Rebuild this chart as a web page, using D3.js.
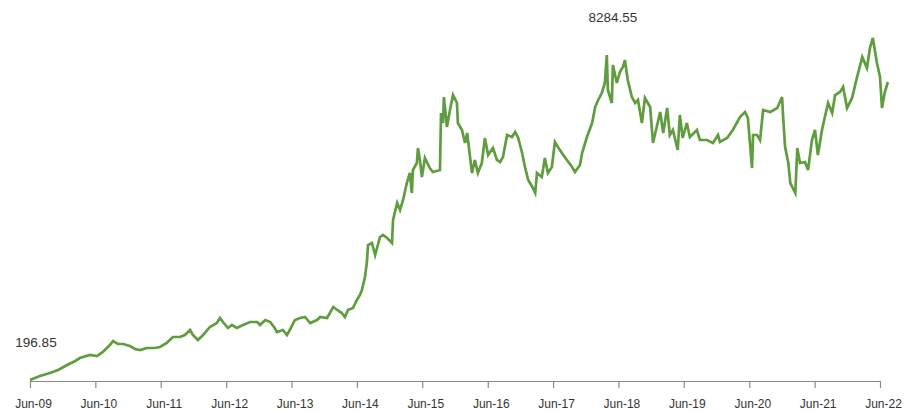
<!DOCTYPE html>
<html>
<head>
<meta charset="utf-8">
<script src="https://cdn.jsdelivr.net/npm/d3@7"></script>
<style>
    body { margin: 0; background: #ffffff; }
    text { font-family: "Helvetica Neue", Helvetica, Arial, "Liberation Sans", sans-serif; }
</style>
</head>
<body>
<script>

//dates of the line
var dates = [
    "2009-06-01","2009-07-26","2009-09-21","2009-11-05","2009-12-25","2010-02-09","2010-03-06","2010-05-01",
    "2010-06-10","2010-07-13","2010-08-21","2010-09-08","2010-10-05","2010-11-03","2010-12-11","2011-01-09",
    "2011-02-06","2011-03-15","2011-04-29","2011-05-28","2011-07-05","2011-08-08","2011-09-17","2011-10-14",
    "2011-11-12","2011-11-28","2011-12-26","2012-01-24","2012-03-02","2012-04-10","2012-04-27","2012-05-14",
    "2012-06-11","2012-07-03","2012-07-30","2012-09-03","2012-10-12","2012-11-21","2012-12-07","2013-01-05",
    "2013-02-02","2013-02-27","2013-03-11","2013-04-14","2013-05-06","2013-05-22","2013-06-20","2013-07-18",
    "2013-08-15","2013-09-13","2013-10-21","2013-11-08","2013-12-16","2014-01-20","2014-02-11","2014-03-09",
    "2014-03-26","2014-04-12","2014-05-10","2014-06-01","2014-06-18","2014-06-29","2014-07-16","2014-07-27",
    "2014-08-02","2014-08-24","2014-09-11","2014-10-08","2014-10-25","2014-11-17","2014-12-14","2014-12-20",
    "2015-01-12","2015-01-28","2015-02-14","2015-03-07","2015-03-24","2015-04-04","2015-04-10","2015-05-02",
    "2015-05-08","2015-05-19","2015-05-30","2015-06-16","2015-07-13","2015-07-30","2015-09-08","2015-09-14",
    "2015-09-25","2015-09-30","2015-10-17","2015-11-03","2015-11-20","2015-12-12","2015-12-17","2016-01-09",
    "2016-01-26","2016-02-07","2016-02-23","2016-03-05","2016-03-21","2016-04-07","2016-04-29","2016-05-16",
    "2016-06-03","2016-06-30","2016-07-22","2016-08-09","2016-08-25","2016-09-17","2016-10-14","2016-11-01",
    "2016-11-18","2016-12-10","2016-12-26","2017-01-13","2017-02-05","2017-02-21","2017-03-03","2017-03-30",
    "2017-04-16","2017-05-03","2017-05-25","2017-06-11","2017-06-28","2017-07-20","2017-08-17","2017-09-15",
    "2017-10-01","2017-10-29","2017-11-10","2017-12-07","2018-01-05","2018-01-22","2018-02-08","2018-02-28",
    "2018-03-17","2018-03-28","2018-04-03","2018-04-25","2018-05-01","2018-05-23","2018-06-09","2018-06-26",
    "2018-07-07","2018-07-23","2018-08-15","2018-09-02","2018-09-18","2018-10-10","2018-10-27","2018-11-25",
    "2018-12-11","2019-01-20","2019-02-06","2019-02-28","2019-03-15","2019-04-01","2019-04-28","2019-05-10",
    "2019-05-26","2019-06-18","2019-07-05","2019-08-13","2019-08-30","2019-10-08","2019-11-11","2019-12-09",
    "2019-12-20","2020-01-29","2020-03-01","2020-04-10","2020-05-08","2020-05-24","2020-06-16","2020-06-22",
    "2020-07-14","2020-07-31","2020-08-17","2020-09-26","2020-11-04","2020-12-01","2020-12-07","2020-12-18",
    "2021-01-05","2021-01-16","2021-02-13","2021-02-24","2021-03-11","2021-04-08","2021-04-25","2021-05-17",
    "2021-06-03","2021-06-19","2021-07-12","2021-07-28","2021-08-15","2021-09-07","2021-09-23","2021-10-21",
    "2021-11-07","2021-11-29","2021-12-27","2022-01-24","2022-02-22","2022-03-20","2022-04-06","2022-04-22",
    "2022-05-15","2022-06-01","2022-06-12","2022-06-28","2022-07-15"
];

//values of the line
var values = [
    196.85, 296, 371, 446, 570, 670, 744, 819,
    794, 894, 1068, 1167, 1093, 1093, 1043, 968,
    943, 993, 993, 1018, 1118, 1267, 1267, 1317,
    1441, 1317, 1192, 1317, 1516, 1615, 1740, 1640,
    1491, 1566, 1491, 1566, 1640, 1640, 1566, 1690,
    1640, 1491, 1391, 1441, 1317, 1441, 1690, 1740,
    1765, 1615, 1690, 1765, 1740, 2014, 1939, 1864,
    1765, 1939, 1989, 2188, 2312, 2437, 2760, 3133,
    3556, 3606, 3308, 3756, 3805, 3731, 3606, 4179,
    4602, 4427, 4676, 5099, 5348, 4850, 5423, 5597,
    5970, 5672, 5249, 5721, 5473, 5373, 5423, 6841,
    6592, 7239, 6493, 6916, 7289, 7090, 6592, 6418,
    6095, 6344, 5746, 5348, 5672, 5348, 5597, 6219,
    5796, 5970, 5672, 5622, 5746, 6294, 6244, 6368,
    6219, 5846, 5498, 5174, 5000, 4850, 5348, 5249,
    5721, 5348, 5498, 6120, 5995, 5846, 5672, 5498,
    5373, 5547, 5846, 6244, 6592, 6991, 7165, 7339,
    7588, 8284.55, 7414, 7090, 8036, 7588, 7862, 7986,
    8160, 7663, 7239, 7090, 7165, 6592, 7215, 6991,
    6095, 6866, 6344, 6966, 6294, 6418, 5921, 6792,
    6219, 6592, 6244, 6418, 6169, 6169, 6095, 6294,
    6120, 6219, 6418, 6742, 6866, 6717, 5473, 6294,
    6294, 6169, 6916, 6866, 6966, 7239, 6742, 5995,
    5597, 5099, 4850, 5970, 5597, 5622, 5423, 6169,
    6418, 5796, 6418, 6742, 7090, 6841, 7289, 7364,
    7488, 6966, 7215, 7737, 8235, 7961, 8459, 8708,
    8086, 7737, 6966, 7364, 7613
];

//x axis ticks
var tickDates = [
    "2009-06-01","2010-06-01","2011-06-01","2012-06-01","2013-06-01","2014-06-01","2015-06-01",
    "2016-06-01","2017-06-01","2018-06-01","2019-06-01","2020-06-01","2021-06-01","2022-06-01"
];

//value labels on the line
var labelDates = ["2009-06-01", "2018-03-28"];
var labelValues = [196.85, 8284.55];

const width = 915;
const height = 411;
const lineColor = "#5f9d3f";

var parseDate = d3.timeParse("%Y-%m-%d");

var data = dates.map(function (d, i) {
    return { date: parseDate(d), value: values[i] };
});

var svg = d3.select("body")
    .append("svg")
    .attr("width", width)
    .attr("height", height);

var x = d3.scaleTime()
    .domain([parseDate(tickDates[0]), parseDate(tickDates[tickDates.length - 1])])
    .range([30, 880]);

var y = d3.scaleLinear()
    .domain([196.85, 8284.55])
    .range([380, 55]);

//x axis
var xAxis = d3.axisBottom(x)
    .tickValues(tickDates.map(parseDate))
    .tickFormat(d3.timeFormat("%b-%y"))
    .tickSizeInner(7)
    .tickSizeOuter(0)
    .tickPadding(11);

var axisG = svg.append("g")
    .attr("transform", "translate(0,381)")
    .call(xAxis);

axisG.select(".domain")
    .attr("stroke", "#8a8a8a")
    .attr("stroke-width", 1.2);

axisG.selectAll(".tick line")
    .attr("stroke", "#8a8a8a")
    .attr("stroke-width", 1.2);

axisG.selectAll(".tick text")
    .attr("fill", "#333333")
    .style("font-size", "12px")
    .attr("dx", "3px");

//the line itself
var line = d3.line()
    .x(function (d) { return x(d.date); })
    .y(function (d) { return y(d.value); });

svg.append("path")
    .datum(data)
    .attr("fill", "none")
    .attr("stroke", lineColor)
    .attr("stroke-width", 2.7)
    .attr("stroke-linejoin", "miter")
    .attr("d", line);

//labels for first and highest value
svg.selectAll(".valueLabel")
    .data(labelDates)
    .enter()
    .append("text")
    .attr("class", "valueLabel")
    .attr("x", function (d) { return x(parseDate(d)) + 6; })
    .attr("y", function (d, i) { return y(labelValues[i]) - 33; })
    .attr("text-anchor", "middle")
    .attr("fill", "#333333")
    .style("font-size", "13.5px")
    .text(function (d, i) { return labelValues[i]; });

</script>
</body>
</html>
